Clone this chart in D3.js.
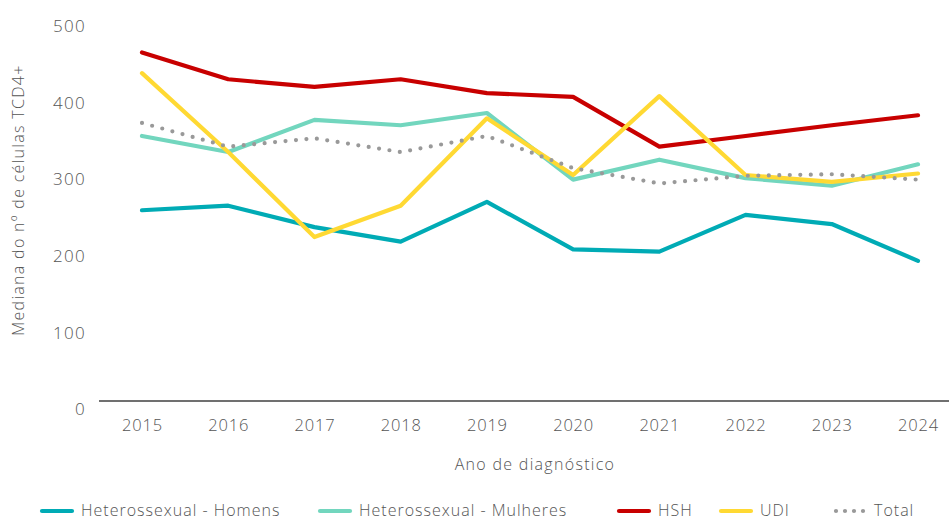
<!DOCTYPE html>
<html>
<head>
<meta charset="utf-8">
<script src="https://cdn.jsdelivr.net/npm/d3@7"></script>
<style>
  body { margin: 0; background: #fff; }
  svg text { font-family: "Open Sans", Lato, sans-serif; font-weight: 300; fill: #555555; }
</style>
</head>
<body>
<div id="chart"></div>
<script>
"use strict";

// anos de diagnóstico
const years = ["2015", "2016", "2017", "2018", "2019", "2020", "2021", "2022", "2023", "2024"];

// mediana de células TCD4+ por grupo
const heteroHomens   = [249, 255, 227, 208, 260, 198, 195, 243, 231, 183];
const heteroMulheres = [346, 325, 367, 360, 376, 289, 315, 291, 281, 309];
const hsh            = [455, 420, 410, 420, 402, 397, 332, 346, 360, 373];
const udi            = [428, 325, 214, 255, 369, 295, 398, 295, 286, 297];
const total          = [363, 332, 343, 325, 346, 304, 284, 294, 296, 289];

const yTicks = [0, 100, 200, 300, 400, 500];

const series = [
    { name: "Heterossexual - Homens", values: heteroHomens, color: "#00abb5", dotted: false },
    { name: "Heterossexual - Mulheres", values: heteroMulheres, color: "#72d6be", dotted: false },
    { name: "HSH", values: hsh, color: "#c80000", dotted: false },
    { name: "UDI", values: udi, color: "#ffd933", dotted: false },
    { name: "Total", values: total, color: "#999999", dotted: true }
];

const width = 949, height = 521;

const svg = d3.select("#chart").append("svg")
    .attr("width", width)
    .attr("height", height);

// scales
const x = d3.scalePoint()
    .domain(years)
    .range([142, 918]);

const y = d3.scaleLinear()
    .domain([0, 500])
    .range([401, 18]);

// y axis labels (no line)
const yAxis = svg.append("g")
    .attr("transform", "translate(86,0)")
    .call(d3.axisLeft(y).tickValues(yTicks).tickSize(0).tickPadding(0));
yAxis.select(".domain").remove();
yAxis.selectAll("text")
    .attr("dy", "0.8em")
    .style("font-size", "17px")
    .style("letter-spacing", "1.3px");

// x axis
const xAxis = svg.append("g")
    .attr("transform", "translate(0,401)")
    .call(d3.axisBottom(x).tickSize(0).tickPadding(18));
xAxis.select(".domain").remove();
xAxis.selectAll("text")
    .style("font-size", "16.5px")
    .style("letter-spacing", "0.8px");
svg.append("line")
    .attr("x1", 99).attr("x2", width)
    .attr("y1", 401).attr("y2", 401)
    .attr("stroke", "#404040")
    .attr("stroke-width", 1.3);

// axis titles
svg.append("text")
    .attr("x", 535).attr("y", 470)
    .attr("text-anchor", "middle")
    .style("font-size", "16px")
    .style("letter-spacing", "1.3px")
    .text("Ano de diagnóstico");

svg.append("text")
    .attr("transform", "translate(24,200) rotate(-90)")
    .attr("text-anchor", "middle")
    .style("font-size", "16px")
    .style("letter-spacing", "1.3px")
    .text("Mediana do nº de células TCD4+");

// lines
const line = d3.line()
    .x((d, i) => x(years[i]))
    .y(d => y(d));

svg.append("g").selectAll("path")
    .data(series)
    .enter()
    .append("path")
    .attr("d", d => line(d.values))
    .attr("fill", "none")
    .attr("stroke", d => d.color)
    .attr("stroke-width", 4.2)
    .attr("stroke-linejoin", "round")
    .attr("stroke-linecap", "round")
    .attr("stroke-dasharray", d => d.dotted ? "0 10.5" : null);

// legend
const legendX = [40, 318, 617, 719, 834];
const legend = svg.append("g").selectAll("g")
    .data(series)
    .enter()
    .append("g")
    .attr("transform", (d, i) => "translate(" + legendX[i] + ",511)");

legend.append("line")
    .attr("x1", 2).attr("x2", 32)
    .attr("y1", 0).attr("y2", 0)
    .attr("stroke", d => d.color)
    .attr("stroke-width", 4.2)
    .attr("stroke-linecap", "round")
    .attr("stroke-dasharray", d => d.dotted ? "0 9" : null);

legend.append("text")
    .attr("x", d => d.dotted ? 40 : 41)
    .attr("y", 0)
    .attr("dy", "0.33em")
    .style("font-size", "16px")
    .style("letter-spacing", "1px")
    .text(d => d.name);
</script>
</body>
</html>
